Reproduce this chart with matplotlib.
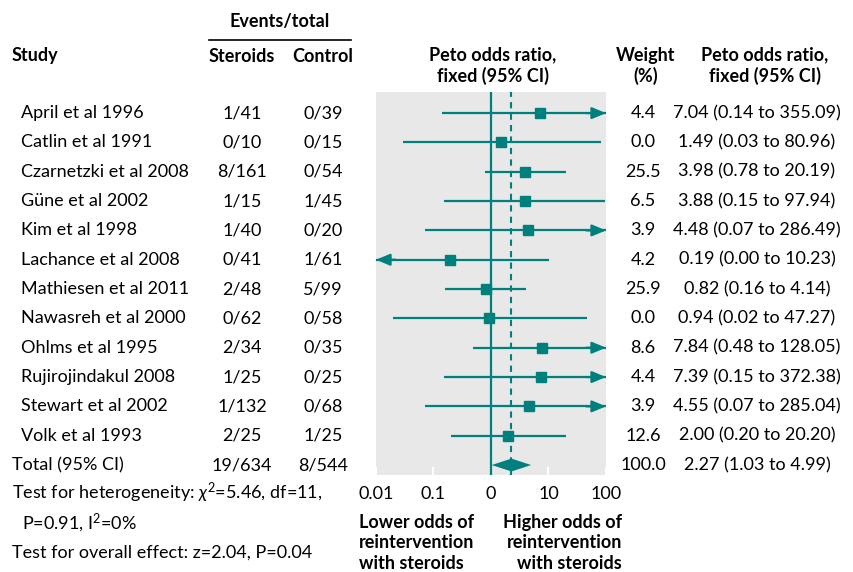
import numpy as np
import matplotlib
matplotlib.use("Agg")
import matplotlib.pyplot as plt
from matplotlib.transforms import blended_transform_factory

plt.rcParams['font.family'] = ['Lato', 'DejaVu Sans']
plt.rcParams['mathtext.fontset'] = 'custom'
plt.rcParams['mathtext.it'] = 'Lato:italic'
plt.rcParams['mathtext.rm'] = 'Lato'

studies = ["April et al 1996", "Catlin et al 1991", "Czarnetzki et al 2008",
           "Güne et al 2002", "Kim et al 1998", "Lachance et al 2008",
           "Mathiesen et al 2011", "Nawasreh et al 2000", "Ohlms et al 1995",
           "Rujirojindakul 2008", "Stewart et al 2002", "Volk et al 1993"]
steroids = ["1/41", "0/10", "8/161", "1/15", "1/40", "0/41", "2/48", "0/62",
            "2/34", "1/25", "1/132", "2/25"]
control = ["0/39", "0/15", "0/54", "1/45", "0/20", "1/61", "5/99", "0/58",
           "0/35", "0/25", "0/68", "1/25"]
weight = [4.4, 0.0, 25.5, 6.5, 3.9, 4.2, 25.9, 0.0, 8.6, 4.4, 3.9, 12.6]
peto_or = [7.04, 1.49, 3.98, 3.88, 4.48, 0.19, 0.82, 0.94, 7.84, 7.39, 4.55, 2.00]
ci_lo = [0.14, 0.03, 0.78, 0.15, 0.07, 0.00, 0.16, 0.02, 0.48, 0.15, 0.07, 0.20]
ci_hi = [355.09, 80.96, 20.19, 97.94, 286.49, 10.23, 4.14, 47.27, 128.05,
         372.38, 285.04, 20.20]

total_label = "Total (95% CI)"
total_steroids, total_control = "19/634", "8/544"
total_weight = 100.0
total_or, total_lo, total_hi = 2.27, 1.03, 4.99

xticks = [0.01, 0.1, 1, 10, 100]
xticklabels = ["0.01", "0.1", "0", "10", "100"]

TEAL = "#00807c"
W, H = 854, 572
FS = 13

fig = plt.figure(figsize=(W / 100, H / 100), dpi=100)
ax = fig.add_axes([376 / W, 1 - 475 / H, (606 - 376) / W, (475 - 92) / H])
ax.set_facecolor("#e8e8e8")
for s in ax.spines.values():
    s.set_visible(False)

n = len(studies)
ax.set_xscale("log")
xmin, xmax = 0.01, 100
ax.set_xlim(xmin, xmax)
ax.set_ylim(n + 0.34, -0.72)
ax.set_yticks([])
ax.set_xticks(xticks)
ax.set_xticklabels(xticklabels, fontsize=FS)
ax.minorticks_off()
ax.tick_params(axis="x", direction="in", color="white", length=6, width=1.5,
               pad=8)

ax.axvline(1, color=TEAL, lw=1.6, zorder=2)
ax.axvline(total_or, color=TEAL, lw=1.5, ls=(0, (3, 2.5)), zorder=2)

for i in range(n):
    lo = max(ci_lo[i], xmin)
    hi = min(ci_hi[i], xmax)
    ax.plot([lo, hi], [i, i], color=TEAL, lw=1.6, solid_capstyle="butt", zorder=3)
    if ci_hi[i] > xmax:
        ax.annotate("", xy=(xmax, i), xytext=(xmax / 2.2, i),
                    arrowprops=dict(arrowstyle="-|>,head_length=0.6,head_width=0.25",
                                    color=TEAL, lw=1.6,
                                    mutation_scale=14, shrinkA=0, shrinkB=0))
    if ci_lo[i] < xmin:
        ax.annotate("", xy=(xmin, i), xytext=(xmin * 2.2, i),
                    arrowprops=dict(arrowstyle="-|>,head_length=0.6,head_width=0.25",
                                    color=TEAL, lw=1.6,
                                    mutation_scale=14, shrinkA=0, shrinkB=0))
    ax.plot(peto_or[i], i, marker="s", ms=6.5, color=TEAL, mec=TEAL, zorder=4)

dh = 0.22
ax.fill([total_lo, total_or, total_hi, total_or],
        [n, n - dh, n, n + dh], color=TEAL, lw=0, zorder=4)

# text columns
tr = blended_transform_factory(fig.transFigure, ax.transData)


def fx(x):
    return x / W


for i in range(n):
    fig.text(fx(21), i, studies[i], transform=tr, va="center", fontsize=FS)
    fig.text(fx(242), i, steroids[i], transform=tr, va="center", ha="center", fontsize=FS)
    fig.text(fx(323), i, control[i], transform=tr, va="center", ha="center", fontsize=FS)
    fig.text(fx(643), i, f"{weight[i]:.1f}", transform=tr, va="center", ha="center", fontsize=FS)
    fig.text(fx(757), i, f"{peto_or[i]:.2f} ({ci_lo[i]:.2f} to {ci_hi[i]:.2f})",
             transform=tr, va="center", ha="center", fontsize=FS)

fig.text(fx(12), n, total_label, transform=tr, va="center", fontsize=FS)
fig.text(fx(242), n, total_steroids, transform=tr, va="center", ha="center", fontsize=FS)
fig.text(fx(323), n, total_control, transform=tr, va="center", ha="center", fontsize=FS)
fig.text(fx(643), n, f"{total_weight:.1f}", transform=tr, va="center", ha="center", fontsize=FS)
fig.text(fx(757), n, f"{total_or:.2f} ({total_lo:.2f} to {total_hi:.2f})",
         transform=tr, va="center", ha="center", fontsize=FS)


def ptext(x, y, s, **kw):
    kw.setdefault("fontsize", FS)
    kw.setdefault("va", "center")
    fig.text(x / W, 1 - y / H, s, **kw)


# headers
ptext(280, 22, "Events/total", ha="center", weight="bold")
fig.add_artist(plt.Line2D([209 / W, 351 / W], [1 - 40 / H, 1 - 40 / H],
                          color="black", lw=1.2))
ptext(12, 56, "Study", weight="bold")
ptext(242, 56, "Steroids", ha="center", weight="bold")
ptext(323, 56, "Control", ha="center", weight="bold")
ptext(493, 66, "Peto odds ratio,\nfixed (95% CI)", ha="center", weight="bold",
      linespacing=1.25, multialignment="center")
ptext(646, 66, "Weight\n(%)", ha="center", weight="bold", linespacing=1.25)
ptext(765, 66, "Peto odds ratio,\nfixed (95% CI)", ha="center", weight="bold",
      linespacing=1.25, multialignment="center")

# footer
ptext(12, 493, r"Test for heterogeneity: $\chi^2$=5.46, df=11,")
ptext(22, 523, r"P=0.91, I$^2$=0%")
ptext(12, 553, "Test for overall effect: z=2.04, P=0.04")
ptext(359, 543, "Lower odds of\nreintervention\nwith steroids", weight="bold",
      linespacing=1.22)
ptext(622, 543, "Higher odds of\nreintervention\nwith steroids", ha="right",
      weight="bold", linespacing=1.22, multialignment="right")

fig.savefig("out.png", dpi=100)
